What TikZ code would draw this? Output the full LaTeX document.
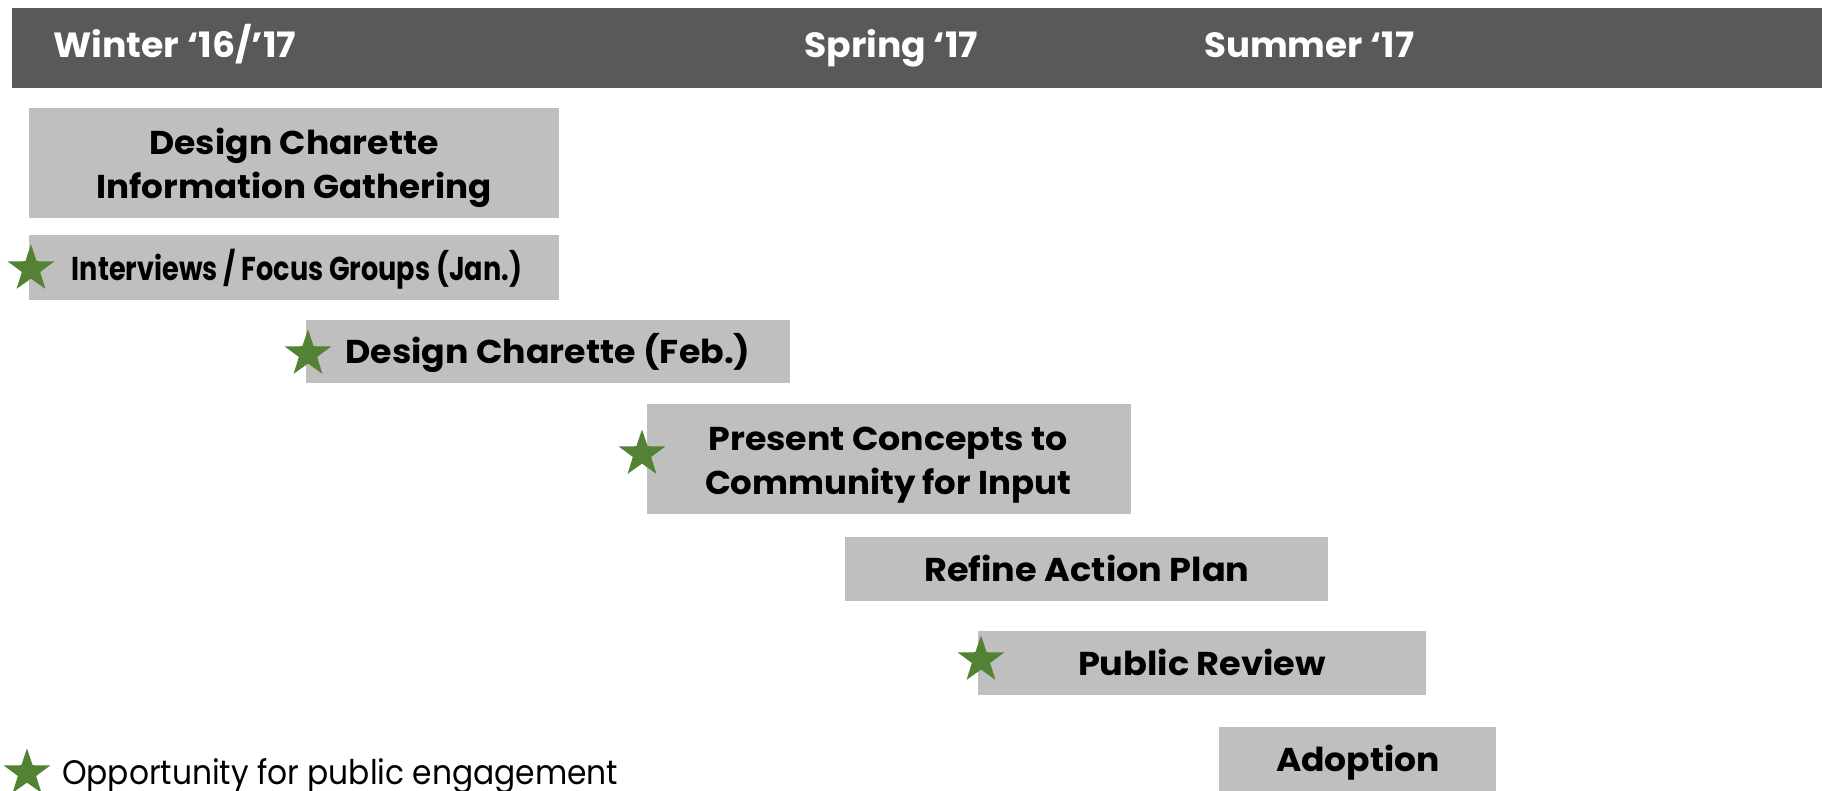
\documentclass[tikz,border=0pt]{standalone}
\usepackage{fontspec}
\setmainfont{Poppins}
\usetikzlibrary{shapes.geometric}
\definecolor{hdrgray}{HTML}{595959}
\definecolor{boxgray}{HTML}{BFBFBF}
\definecolor{stargreen}{HTML}{548235}
\newcommand\fitw[2]{\resizebox{#1pt}{\height}{#2}}
\begin{document}
\begin{tikzpicture}[x=1pt,y=-1pt,
  taskbox/.style={fill=boxgray, draw=none, inner sep=0pt, anchor=north west},
  hdrbar/.style={fill=hdrgray, draw=none, inner sep=0pt, anchor=north west},
  tasktext/.style={inner sep=0pt, anchor=base, text=black, font=\fontsize{33}{40}\selectfont\bfseries},
  hdrtext/.style={inner sep=0pt, anchor=base west, text=white, font=\fontsize{35}{42}\selectfont\bfseries},
  legtext/.style={inner sep=0pt, anchor=base west, text=black, font=\fontsize{34}{40}\selectfont},
  gstar/.style={star, star points=5, star point ratio=2.55, fill=stargreen, draw=none, inner sep=0pt, minimum size=49pt}
]
\useasboundingbox (0,0) rectangle (1822,791);
\fill[white] (0,0) rectangle (1822,791);

% header
\node[hdrbar, minimum width=1810pt, minimum height=80pt] (hdr) at (12,8) {};
\node[hdrtext] (hw) at (53,58) {\fitw{243}{Winter ‘16/’17}};
\node[hdrtext] (hs) at (804,58) {\fitw{174}{Spring ‘17}};
\node[hdrtext] (hu) at (1204,58) {\fitw{210}{Summer ‘17}};

% task boxes
\node[taskbox, minimum width=530pt, minimum height=110pt] (b1) at (29,108) {};
\node[tasktext] (t1a) at (294,155) {\fitw{289}{Design Charette}};
\node[tasktext] (t1b) at (294,199) {\fitw{395}{Information Gathering}};

\node[taskbox, minimum width=530pt, minimum height=65pt] (b2) at (29,235) {};
\node[tasktext] (t2) at (297,281) {\fitw{450}{Interviews / Focus Groups (Jan.)}};

\node[taskbox, minimum width=484pt, minimum height=63pt] (b3) at (306,320) {};
\node[tasktext] (t3) at (548,363) {\fitw{405}{Design Charette (Feb.)}};

\node[taskbox, minimum width=484pt, minimum height=110pt] (b4) at (647,404) {};
\node[tasktext] (t4a) at (888,450) {\fitw{359}{Present Concepts to}};
\node[tasktext] (t4b) at (888,494) {\fitw{366}{Community for Input}};

\node[taskbox, minimum width=483pt, minimum height=64pt] (b5) at (845,537) {};
\node[tasktext] (t5) at (1087,581) {\fitw{325}{Refine Action Plan}};

\node[taskbox, minimum width=448pt, minimum height=64pt] (b6) at (978,631) {};
\node[tasktext] (t6) at (1202,675) {\fitw{248}{Public Review}};

\node[taskbox, minimum width=277pt, minimum height=64pt] (b7) at (1219,727) {};
\node[tasktext] (t7) at (1358,771) {\fitw{164}{Adoption}};

% stars
\node[gstar] (s1) at (31,269) {};
\node[gstar] (s2) at (308,354) {};
\node[gstar] (s3) at (642,454) {};
\node[gstar] (s4) at (981,660) {};

% legend
\node[gstar] (s5) at (27,773) {};
\node[legtext] (leg) at (62,784) {\fitw{556}{Opportunity for public engagement}};
\end{tikzpicture}
\end{document}
